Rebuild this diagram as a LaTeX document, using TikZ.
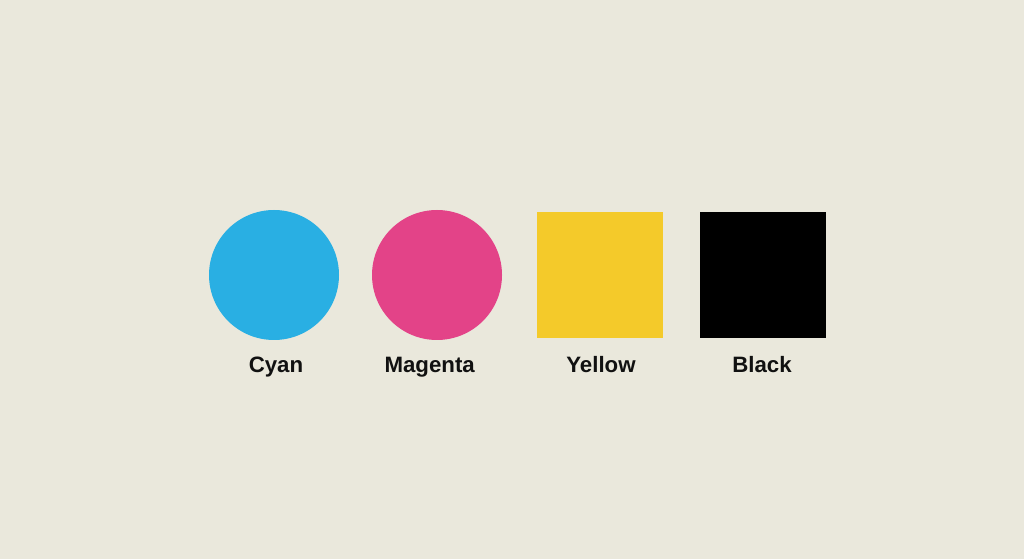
\documentclass[tikz,border=0pt]{standalone}
\usepackage{fontspec}
\setmainfont{Liberation Sans}
\usepackage{tikz}

\definecolor{paper}{HTML}{EAE8DC}
\definecolor{inkcyan}{HTML}{29AFE3}
\definecolor{inkmagenta}{HTML}{E34388}
\definecolor{inkyellow}{HTML}{F4CA2A}
\definecolor{inkblack}{HTML}{000000}
\definecolor{labeltext}{HTML}{111111}

\tikzset{
    swatchdot/.style={circle, minimum size=3.9cm, inner sep=0pt},
    swatchsquare/.style={rectangle, minimum size=3.76cm, inner sep=0pt},
    swatchlabel/.style={anchor=base, text=labeltext, font=\bfseries\fontsize{19}{22}\selectfont}
}

\begin{document}
\begin{tikzpicture}
    \fill [paper] (0, 0) rectangle (30.72, 16.77);
    \useasboundingbox (0, 0) rectangle (30.72, 16.77);

    \node (cyan) at (8.22, 8.52) [swatchdot, fill=inkcyan] {};
    \node (magenta) at (13.11, 8.52) [swatchdot, fill=inkmagenta] {};
    \node (yellow) at (18.0, 8.52) [swatchsquare, fill=inkyellow] {};
    \node (black) at (22.89, 8.52) [swatchsquare, fill=inkblack] {};

    \node (cyan_label) at (8.28, 5.58) [swatchlabel] {Cyan};
    \node (magenta_label) at (12.89, 5.58) [swatchlabel] {Magenta};
    \node (yellow_label) at (18.03, 5.58) [swatchlabel] {Yellow};
    \node (black_label) at (22.86, 5.58) [swatchlabel] {Black};
\end{tikzpicture}
\end{document}
